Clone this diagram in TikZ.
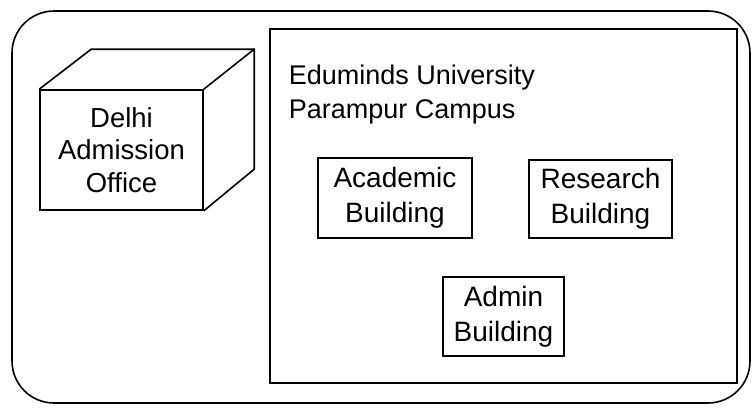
\documentclass[tikz,border=0pt]{standalone}
\usepackage{fontspec}
\setmainfont{Liberation Sans}
\begin{document}
\begin{tikzpicture}[x=1pt, y=-1pt, line width=1.6pt]
    \tikzset{
        bldg/.style={draw, align=center, inner sep=0pt, font=\fontsize{28}{35}\selectfont},
        label/.style={align=left, inner sep=0pt, font=\fontsize{27}{34}\selectfont}
    }
    \useasboundingbox (0,0) rectangle (752,407);

    % Outer frame
    \draw[rounded corners=42pt] (12,11) rectangle (750,403);

    % Campus area
    \node[draw, minimum width=467pt, minimum height=354pt, inner sep=0pt] (campus) at (503.5,206) {};
    \node[label, anchor=north west] (title) at (288,64) {Eduminds University\\Parampur Campus};

    % Office cube (front face + depth)
    \node[bldg, font=\fontsize{27.5}{32.5}\selectfont, minimum width=163pt, minimum height=120pt] (office) at (121.5,150) {Delhi\\Admission\\Office};
    \draw (office.north west) -- ++(52,-40) coordinate (backnw) -- ++(163,0) coordinate (backne)
          -- ++(0,120) coordinate (backse) -- (office.south east);
    \draw (backne) -- (office.north east);

    % Buildings
    \node[bldg, minimum width=154pt, minimum height=80pt] (academic) at (395,198) {Academic\\Building};
    \node[bldg, minimum width=143pt, minimum height=78pt] (research) at (600.5,199) {Research\\Building};
    \node[bldg, minimum width=121pt, minimum height=79pt] (admin) at (503.5,316.5) {Admin\\Building};
\end{tikzpicture}
\end{document}
